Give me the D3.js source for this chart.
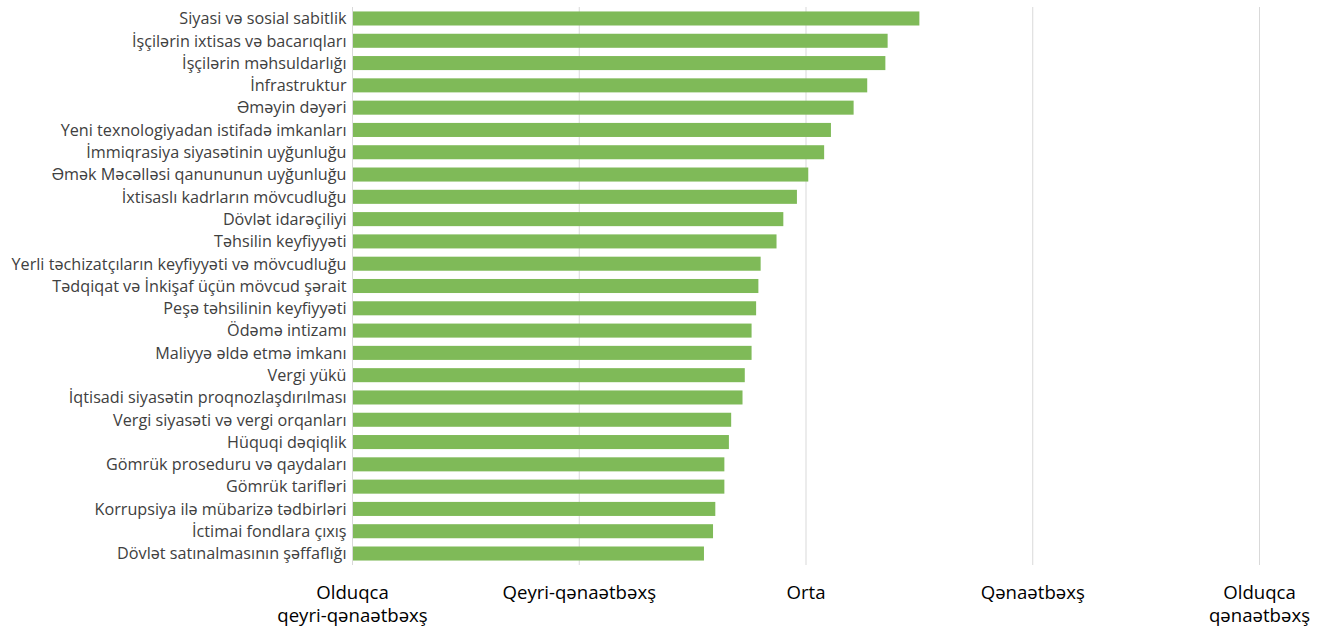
<!DOCTYPE html>
<meta charset="utf-8">
<body style="margin:0;background:#fff">
    <div id="chart"></div>
</body>
<script src="https://d3js.org/d3.v7.min.js"></script>
<script>
    var factors = [
        "Siyasi və sosial sabitlik",
        "İşçilərin ixtisas və bacarıqları",
        "İşçilərin məhsuldarlığı",
        "İnfrastruktur",
        "Əməyin dəyəri",
        "Yeni texnologiyadan istifadə imkanları",
        "İmmiqrasiya siyasətinin uyğunluğu",
        "Əmək Məcəlləsi qanununun uyğunluğu",
        "İxtisaslı kadrların mövcudluğu",
        "Dövlət idarəçiliyi",
        "Təhsilin keyfiyyəti",
        "Yerli təchizatçıların keyfiyyəti və mövcudluğu",
        "Tədqiqat və İnkişaf üçün mövcud şərait",
        "Peşə təhsilinin keyfiyyəti",
        "Ödəmə intizamı",
        "Maliyyə əldə etmə imkanı",
        "Vergi yükü",
        "İqtisadi siyasətin proqnozlaşdırılması",
        "Vergi siyasəti və vergi orqanları",
        "Hüquqi dəqiqlik",
        "Gömrük proseduru və qaydaları",
        "Gömrük tarifləri",
        "Korrupsiya ilə mübarizə tədbirləri",
        "İctimai fondlara çıxış",
        "Dövlət satınalmasının şəffaflığı"
    ];
    var scores = [3.50, 3.36, 3.35, 3.27, 3.21, 3.11, 3.08, 3.01, 2.96, 2.90, 2.87,
        2.80, 2.79, 2.78, 2.76, 2.76, 2.73, 2.72, 2.67, 2.66, 2.64, 2.64, 2.60, 2.59, 2.55];

    var tickValues = [1, 2, 3, 4, 5];
    var tickLabels = [
        ["Olduqca", "qeyri-qənaətbəxş"],
        ["Qeyri-qənaətbəxş"],
        ["Orta"],
        ["Qənaətbəxş"],
        ["Olduqca", "qənaətbəxş"]
    ];

    var width = 1321, height = 630;
    var plotLeft = 352.5, plotRight = 1259.5, plotTop = 7, plotBottom = 565;

    var svg = d3.select("#chart").append("svg")
        .attr("width", width)
        .attr("height", height)
        .style("font-family", "'Open Sans', sans-serif");

    var x = d3.scaleLinear().domain([1, 5]).range([plotLeft, plotRight]);
    var y = d3.scaleBand().domain(factors).range([plotTop, plotBottom]).paddingInner(0.37).paddingOuter(0.2);

    // vertical gridlines
    svg.append("g")
        .selectAll("line")
        .data(tickValues)
        .enter().append("line")
            .attr("x1", d => x(d))
            .attr("x2", d => x(d))
            .attr("y1", plotTop)
            .attr("y2", plotBottom)
            .attr("stroke", "#d9d9d9")
            .attr("stroke-width", 1);

    svg.append("g")
        .selectAll("rect")
        .data(scores)
        .enter().append("rect")
            .attr("x", x(1) + 0.5)
            .attr("y", (d, i) => y(factors[i]))
            .attr("width", d => x(d) - x(1) - 0.5)
            .attr("height", y.bandwidth())
            .attr("fill", "#7fba58");

    // category labels
    svg.append("g")
        .selectAll("text")
        .data(factors)
        .enter().append("text")
            .attr("x", plotLeft - 6)
            .attr("y", d => y(d) + y.bandwidth() / 2)
            .attr("dy", "0.36em")
            .attr("text-anchor", "end")
            .attr("font-size", 16.2)
            .attr("fill", "#404040")
            .text(d => d);

    // x axis labels
    var xl = svg.append("g")
        .selectAll("text")
        .data(tickValues)
        .enter().append("text")
            .attr("text-anchor", "middle")
            .attr("font-size", 18.6)
            .attr("fill", "#000");
    xl.each(function (d, i) {
        var t = d3.select(this);
        tickLabels[i].forEach(function (line, j) {
            t.append("tspan")
                .attr("x", x(d))
                .attr("y", 599 + j * 23)
                .text(line);
        });
    });
</script>
